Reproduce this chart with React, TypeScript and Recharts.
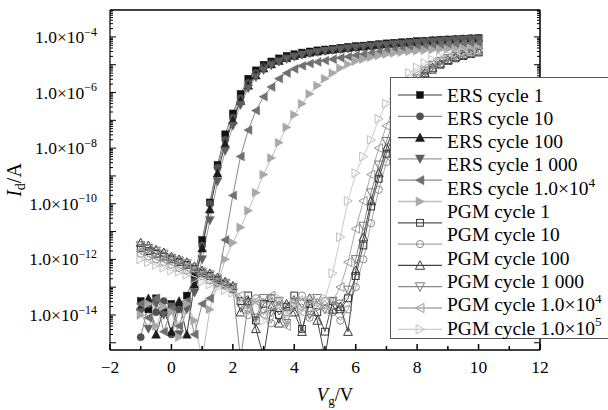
import React from 'react';
import { LineChart, Line, XAxis, YAxis, Legend } from 'recharts';

const W = 608;
const H = 410;
// plot frame in page pixels
const PL = 110;
const PR = 540;
const PT = 10;
const PB = 350;
const SERIF = 'Liberation Serif, serif';

// gate voltage (V), shared by all sweeps
const vg = [
  -1, -0.75, -0.5, -0.25, 0, 0.25, 0.5, 0.75, 1, 1.25, 1.5, 1.75, 2, 2.25, 2.5, 2.75,
  3, 3.25, 3.5, 3.75, 4, 4.25, 4.5, 4.75, 5, 5.25, 5.5, 5.75, 6, 6.25, 6.5, 6.75,
  7, 7.25, 7.5, 7.75, 8, 8.25, 8.5, 8.75, 9, 9.25, 9.5, 9.75, 10,
];

const ers1 = [
  -13.5, -13.8, -13.4, -13.9, -13.6, -13.7, -13.3,
  -12.6, -11.3, -9.95, -8.6, -7.5, -6.75,
  -6.05, -5.5, -5.2, -5.0, -4.88, -4.77, -4.68, -4.62,
  -4.56, -4.52, -4.48, -4.45, -4.42, -4.39, -4.36, -4.33,
  -4.31, -4.28, -4.26, -4.23, -4.21, -4.19, -4.17, -4.15,
  -4.14, -4.12, -4.1, -4.09, -4.08, -4.06, -4.05, -4.04,
];
const ers10 = [
  -14.8, -13.6, -13.9, -13.5, -14.7, -13.8, -13.6,
  -12.8, -11.5, -10.0, -8.7, -7.7, -6.9,
  -6.2, -5.65, -5.3, -5.08, -4.95, -4.84, -4.75, -4.68,
  -4.62, -4.57, -4.53, -4.5, -4.47, -4.44, -4.41, -4.38,
  -4.36, -4.33, -4.31, -4.28, -4.26, -4.24, -4.22, -4.2,
  -4.18, -4.16, -4.14, -4.13, -4.11, -4.1, -4.08, -4.07,
];
const ers100 = [
  -13.7, -13.4, -14.7, -13.8, -14.6, -13.5, -14.7,
  -12.9, -11.6, -10.2, -8.9, -7.85, -7.0,
  -6.3, -5.75, -5.38, -5.13, -4.98, -4.86, -4.76, -4.68,
  -4.61, -4.56, -4.52, -4.48, -4.45, -4.42, -4.39, -4.36,
  -4.34, -4.31, -4.29, -4.26, -4.24, -4.22, -4.2, -4.18,
  -4.16, -4.14, -4.12, -4.11, -4.09, -4.08, -4.06, -4.05,
];
const ers1000 = [
  -13.9, -14.5, -13.6, -14.0, -13.7, -14.7, -13.8,
  -13.2, -12.0, -10.6, -9.2, -8.1, -7.2,
  -6.45, -5.85, -5.45, -5.2, -5.03, -4.9, -4.8, -4.72,
  -4.65, -4.6, -4.55, -4.51, -4.48, -4.45, -4.42, -4.39,
  -4.36, -4.34, -4.31, -4.29, -4.27, -4.25, -4.23, -4.21,
  -4.19, -4.17, -4.15, -4.14, -4.12, -4.1, -4.09, -4.08,
];
const ers1e4 = [
  -13.6, -14.1, -13.4, -14.6, -13.8, -14.4, -13.5, -14.7, -13.6,
  -13.4, -12.8, -11.3, -9.7, -8.3, -7.35, -6.65, -6.15,
  -5.8, -5.5, -5.3, -5.15, -5.04, -4.96, -4.9, -4.85,
  -4.8, -4.75, -4.71, -4.66, -4.62, -4.58, -4.54, -4.5,
  -4.47, -4.44, -4.41, -4.38, -4.35, -4.33, -4.3, -4.28,
  -4.26, -4.24, -4.23, -4.22,
];
const ers1e5 = [
  -14.0, -13.6, -14.4, -13.7, -13.9, -14.8, -13.6, -14.2, -15.6, -13.8,
  -12.9, -12.0, -11.4, -10.85, -10.25, -9.6, -8.95, -8.35,
  -7.8, -7.25, -6.8, -6.4, -6.05, -5.75, -5.5, -5.3,
  -5.12, -4.98, -4.87, -4.8, -4.73, -4.67, -4.62, -4.58,
  -4.55, -4.52, -4.5, -4.48, -4.46, -4.45, -4.44, -4.43,
  -4.42, -4.41, -4.4,
];
const pgm1 = [
  -11.6, -11.7, -11.8, -11.9, -12.0, -12.1, -12.2, -12.35, -12.5, -12.6, -12.75, -12.9, -13.05,
  -13.5, -13.3, -14.2, -13.6, -13.4, -14.0, -13.7, -13.3, -14.5, -13.6, -13.9, -14.6, -13.5, -13.8, -13.4,
  -12.6, -11.5, -10.1, -9.1, -8.2, -7.4, -6.7, -6.1, -5.7, -5.4, -5.18, -5.0, -4.87, -4.77, -4.69, -4.62, -4.56,
];
const pgm10 = [
  -11.8, -11.9, -12.0, -12.1, -12.2, -12.3, -12.4, -12.5, -12.6, -12.75, -12.85, -12.95, -13.1,
  -13.6, -14.0, -13.4, -13.8, -14.3, -13.5, -13.9, -13.6, -13.3, -14.1, -13.7, -13.5, -13.9, -14.2, -13.8,
  -13.0, -12.0, -10.7, -9.5, -8.5, -7.6, -6.85, -6.2, -5.75, -5.42, -5.18, -5.0, -4.86, -4.76, -4.67, -4.6, -4.54,
];
const pgm100 = [
  -11.4, -11.5, -11.65, -11.75, -11.9, -12.0, -12.1, -12.25, -12.4, -12.5, -12.65, -12.8, -12.95,
  -13.9, -13.5, -14.5, -15.5, -13.7, -14.3, -13.6, -13.9, -14.6, -13.4, -14.2, -15.5, -13.8, -13.7, -14.6,
  -12.4, -11.2, -9.9, -8.9, -8.0, -7.2, -6.55, -6.0, -5.6, -5.3, -5.1, -4.95, -4.82, -4.72, -4.64, -4.58, -4.52,
];
const pgm1000 = [
  -11.5, -11.6, -11.7, -11.8, -11.95, -12.05, -12.15, -12.3, -12.45, -12.55, -12.7, -12.85, -13.0,
  -15.6, -13.6, -14.1, -13.4, -13.9, -13.5, -14.3, -13.7, -13.6, -14.0, -13.4, -13.8, -13.5, -13.6, -13.1,
  -12.0, -10.8, -9.6, -8.6, -7.75, -7.0, -6.4, -5.9, -5.5, -5.22, -5.02, -4.88, -4.77, -4.69, -4.63, -4.58, -4.54,
];
const pgm1e4 = [
  -11.7, -11.8, -11.9, -12.0, -12.1, -12.2, -12.3, -12.4, -12.55, -12.65, -12.8, -12.9, -13.05,
  -13.3, -13.8, -13.5, -14.0, -13.3, -13.7, -14.4, -13.5, -13.9, -13.4, -13.6, -13.8, -13.5,
  -13.0, -12.1, -10.9, -9.9, -8.95, -8.0, -7.2, -6.55, -6.05, -5.65, -5.35, -5.12, -4.96, -4.84, -4.74, -4.66, -4.6, -4.55, -4.5,
];
const pgm1e5 = [
  -12.0, -12.1, -12.2, -12.3, -12.4, -12.45, -12.55, -12.7, -12.8, -12.9, -13.0, -13.1, -13.2,
  -13.4, -13.9, -13.5, -14.2, -13.7, -13.4, -14.0, -13.6, -13.8, -13.5, -13.7,
  -13.4, -12.5, -11.2, -9.9, -8.9, -8.3, -7.7, -6.95, -6.4, -5.95, -5.6, -5.3, -5.1, -4.94, -4.82, -4.72, -4.65, -4.59, -4.54, -4.5, -4.47,
];

// legend text as printed (one line fewer than there are symbols)
const legendLabels = [
  'ERS cycle 1', 'ERS cycle 10', 'ERS cycle 100', 'ERS cycle 1 000', 'ERS cycle 1.0×10^4',
  'PGM cycle 1', 'PGM cycle 10', 'PGM cycle 100', 'PGM cycle 1 000',
  'PGM cycle 1.0×10^4', 'PGM cycle 1.0×10^5',
];

const xLabelTicks = [-2, 0, 2, 4, 6, 8, 10, 12];
const xTicks = [-2, -1, 0, 1, 2, 3, 4, 5, 6, 7, 8, 9, 10, 11, 12];
const yLabelExps = [-14, -12, -10, -8, -6, -4];
const yDecadeExps = [-15, -14, -13, -12, -11, -10, -9, -8, -7, -6, -5, -4];
const yMinorMult = [1, 2, 3, 4, 5, 6, 7, 8, 9];
const Y_MIN = 5.5e-16;
const Y_MAX = 9.3e-4;
const yTicks = yDecadeExps
  .flatMap((e) => yMinorMult.map((m) => m * Math.pow(10, e)))
  .filter((v) => v >= Y_MIN && v <= Y_MAX);

type Shape = 'square' | 'circle' | 'up' | 'down' | 'left' | 'right';

const series: { key: string; logs: number[]; shape: Shape; filled: boolean; color: string; line: string }[] = [
  { key: 'ers1', logs: ers1, shape: 'square', filled: true, color: '#111111', line: '#777777' },
  { key: 'ers10', logs: ers10, shape: 'circle', filled: true, color: '#505050', line: '#8c8c8c' },
  { key: 'ers100', logs: ers100, shape: 'up', filled: true, color: '#1c1c1c', line: '#3a3a3a' },
  { key: 'ers1000', logs: ers1000, shape: 'down', filled: true, color: '#5e5e5e', line: '#9a9a9a' },
  { key: 'ers1e4', logs: ers1e4, shape: 'left', filled: true, color: '#707070', line: '#8a8a8a' },
  { key: 'ers1e5', logs: ers1e5, shape: 'right', filled: true, color: '#a8a8a8', line: '#bdbdbd' },
  { key: 'pgm1', logs: pgm1, shape: 'square', filled: false, color: '#333333', line: '#555555' },
  { key: 'pgm10', logs: pgm10, shape: 'circle', filled: false, color: '#8a8a8a', line: '#a8a8a8' },
  { key: 'pgm100', logs: pgm100, shape: 'up', filled: false, color: '#3a3a3a', line: '#444444' },
  { key: 'pgm1000', logs: pgm1000, shape: 'down', filled: false, color: '#777777', line: '#8a8a8a' },
  { key: 'pgm1e4', logs: pgm1e4, shape: 'left', filled: false, color: '#999999', line: '#aaaaaa' },
  { key: 'pgm1e5', logs: pgm1e5, shape: 'right', filled: false, color: '#c0c0c0', line: '#cccccc' },
];

const toPoints = (logs: number[]) => logs.map((l, i) => ({ x: vg[i], y: Math.pow(10, l) }));

function Marker({ cx, cy, shape, filled, color, s = 4.4 }: any) {
  if (cx == null || cy == null || isNaN(cx) || isNaN(cy)) return null;
  const p = { fill: filled ? color : 'none', stroke: color, strokeWidth: filled ? 0.5 : 1 };
  const t = s * 0.85;
  switch (shape) {
    case 'square':
      return <rect x={cx - 3.4} y={cy - 3.4} width={6.8} height={6.8} {...p} />;
    case 'circle':
      return <circle cx={cx} cy={cy} r={3.6} {...p} />;
    case 'up':
      return <polygon points={`${cx},${cy - s} ${cx + s},${cy + t} ${cx - s},${cy + t}`} {...p} />;
    case 'down':
      return <polygon points={`${cx},${cy + s} ${cx + s},${cy - t} ${cx - s},${cy - t}`} {...p} />;
    case 'left':
      return <polygon points={`${cx - s},${cy} ${cx + t},${cy - s} ${cx + t},${cy + s}`} {...p} />;
    default:
      return <polygon points={`${cx + s},${cy} ${cx - t},${cy - s} ${cx - t},${cy + s}`} {...p} />;
  }
}

const Sup = ({ text, size }: { text: string; size: number }) => {
  const [base, sup] = text.split('^');
  return (
    <>
      {base}
      {sup && (
        <tspan dy={-size * 0.42} fontSize={size * 0.68}>
          {sup}
        </tspan>
      )}
    </>
  );
};

const isDecade = (v: number) => {
  const e = Math.log10(v);
  return Math.abs(e - Math.round(e)) < 1e-6;
};

const LeftTick = (props: any) => {
  const { y, payload } = props;
  const dec = isDecade(payload.value);
  const exp = Math.round(Math.log10(payload.value));
  return (
    <g>
      <line x1={PL} x2={PL + (dec ? 6 : 3)} y1={y} y2={y} stroke="#000" strokeWidth={1} />
      {dec && yLabelExps.includes(exp) && (
        <text x={97} y={y + 6} textAnchor="end" style={{ fontFamily: SERIF }} fontSize={17.5} fill="#000">
          <Sup text={`1.0×10^−${-exp}`} size={17.5} />
        </text>
      )}
    </g>
  );
};

const RightTick = (props: any) => {
  const { y, payload } = props;
  const dec = isDecade(payload.value);
  return <line x1={PR} x2={PR - (dec ? 6 : 3)} y1={y} y2={y} stroke="#000" strokeWidth={1} />;
};

const BottomTick = (props: any) => {
  const { x, payload } = props;
  const major = xLabelTicks.includes(payload.value);
  return (
    <g>
      <line x1={x} x2={x} y1={PB} y2={PB - (major ? 6 : 4)} stroke="#000" strokeWidth={1.5} />
      {major && (
        <text x={x} y={373} textAnchor="middle" style={{ fontFamily: SERIF }} fontSize={17.5} fill="#000">
          {payload.value < 0 ? `−${-payload.value}` : payload.value}
        </text>
      )}
    </g>
  );
};

const TopTick = (props: any) => {
  const { x } = props;
  return <line x1={x} x2={x} y1={PT} y2={PT + 6} stroke="#000" strokeWidth={1.5} />;
};

const XTitle = () => (
  <text x={335} y={401} textAnchor="middle" style={{ fontFamily: SERIF }} fontSize={18.5} fill="#000">
    <tspan fontStyle="italic">V</tspan>
    <tspan dy={4} fontSize={13}>g</tspan>
    <tspan dy={-4}>/V</tspan>
  </text>
);

const YTitle = () => (
  <text
    x={21}
    y={180}
    transform="rotate(-90 21 180)"
    textAnchor="middle"
    style={{ fontFamily: SERIF }}
    fontSize={20}
    fill="#000"
  >
    <tspan fontStyle="italic">I</tspan>
    <tspan dy={4} fontSize={14}>d</tspan>
    <tspan dy={-4}>/A</tspan>
  </text>
);

const LegendBox = () => (
  <svg width={240} height={262} style={{ display: 'block' }}>
    <rect x={0.5} y={0.5} width={239} height={261} fill="#fff" stroke="#555" strokeWidth={1} />
    {series.map((s, k) => {
      const y = 18 + 21.3 * k;
      return (
        <g key={s.key}>
          <line x1={8} x2={52} y1={y} y2={y} stroke={s.line} strokeWidth={1.3} />
          <Marker cx={30} cy={y} shape={s.shape} filled={s.filled} color={s.color} s={4.6} />
        </g>
      );
    })}
    {legendLabels.map((t, k) => (
      <text key={t} x={57} y={18 + 23.3 * k + 6.5} style={{ fontFamily: SERIF }} fontSize={19.5} fill="#000">
        <Sup text={t} size={19.5} />
      </text>
    ))}
  </svg>
);

export default function App() {
  return (
    <div style={{ position: 'absolute', left: 0, top: 0, width: W, height: H, overflow: 'hidden', background: '#fff' }}>
      <LineChart width={W} height={H} margin={{ top: PT - 1, right: W - PR - 8, bottom: 20, left: 10 }}>
        <XAxis
          xAxisId="b"
          dataKey="x"
          type="number"
          domain={[-2, 12]}
          allowDataOverflow
          ticks={xTicks}
          interval={0}
          height={40}
          tickSize={0}
          tickLine={false}
          axisLine={{ stroke: '#000', strokeWidth: 1.5 }}
          tick={<BottomTick />}
          label={<XTitle />}
        />
        <XAxis
          xAxisId="t"
          orientation="top"
          type="number"
          domain={[-2, 12]}
          allowDataOverflow
          ticks={xTicks}
          interval={0}
          height={1}
          tickSize={0}
          tickLine={false}
          axisLine={{ stroke: '#000', strokeWidth: 1.5 }}
          tick={<TopTick />}
        />
        <YAxis
          yAxisId="l"
          type="number"
          scale="log"
          domain={[Y_MIN, Y_MAX]}
          allowDataOverflow
          ticks={yTicks}
          interval={0}
          width={100}
          tickSize={0}
          tickLine={false}
          axisLine={{ stroke: '#000', strokeWidth: 1.2 }}
          tick={<LeftTick />}
          label={<YTitle />}
        />
        <YAxis
          yAxisId="r"
          orientation="right"
          type="number"
          scale="log"
          domain={[Y_MIN, Y_MAX]}
          allowDataOverflow
          ticks={yTicks}
          interval={0}
          width={8}
          tickSize={0}
          tickLine={false}
          axisLine={{ stroke: '#000', strokeWidth: 1.5 }}
          tick={<RightTick />}
        />
        {series.map((s) => (
          <Line
            key={s.key}
            xAxisId="b"
            yAxisId="l"
            data={toPoints(s.logs)}
            dataKey="y"
            type="linear"
            stroke={s.line}
            strokeWidth={1}
            isAnimationActive={false}
            dot={(p: any) => (
              <g key={`${s.key}-${p.index}`}>
                <Marker cx={p.cx} cy={p.cy} shape={s.shape} filled={s.filled} color={s.color} />
              </g>
            )}
            activeDot={false}
          />
        ))}
        <Legend
          layout="vertical"
          align="center"
          verticalAlign="middle"
          wrapperStyle={{ left: 390, top: 77, width: 240, height: 262 }}
          content={() => <LegendBox />}
        />
      </LineChart>
    </div>
  );
}
